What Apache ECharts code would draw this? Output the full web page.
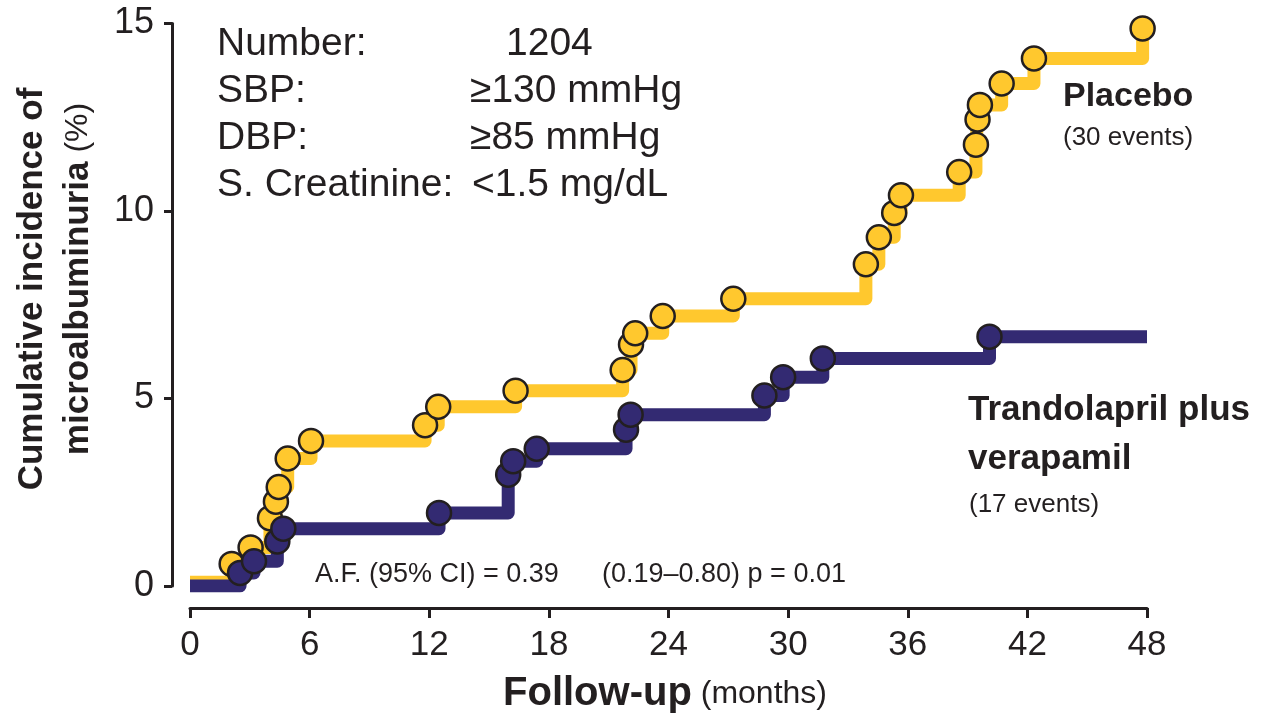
<!DOCTYPE html>
<html>
<head>
<meta charset="utf-8">
<script src="https://cdn.jsdelivr.net/npm/echarts@6/dist/echarts.min.js"></script>
<style>
  html, body { margin: 0; padding: 0; background: #fff; }
  #chart { width: 1270px; height: 714px; }
</style>
</head>
<body>
<div id="chart"></div>
<script>
// event times (months) and cumulative incidence (%)
var placeboTimes = [2.09, 3.04, 4.01, 4.31, 4.45, 4.90, 6.07, 11.79, 12.45, 16.33, 21.70, 22.12, 22.33, 23.71, 27.25,
                    33.90, 34.55, 35.32, 35.66, 38.58, 39.42, 39.50, 39.62, 40.71, 42.33, 47.78];
var placeboPct   = [0.59, 1.03, 1.81, 2.25, 2.64, 3.40, 3.87, 4.29, 4.78, 5.21, 5.76, 6.44, 6.74, 7.20, 7.66,
                    8.58, 9.30, 9.95, 10.42, 11.04, 11.77, 12.44, 12.83, 13.40, 14.07, 14.87];
var placeboStart = 0.1;

var tvTimes = [2.51, 3.21, 4.38, 4.68, 12.49, 15.96, 16.21, 17.39, 21.87, 22.10, 28.81, 29.75, 31.74, 40.10];
var tvPct   = [0.35, 0.66, 1.19, 1.53, 1.95, 2.97, 3.33, 3.66, 4.17, 4.57, 5.08, 5.57, 6.07, 6.65];
var tvStart = 0;

var followEnd = 48;
var xTicks = [0, 48, 6];   // min, max, interval
var yTicks = [0, 15, 5];

var yellow = '#FFC82E';
var navy = '#332A72';
var ink = '#231F20';
var font = '"Liberation Sans", Arial, Helvetica, sans-serif';

function stepData(start, times, pct) {
    var d = [[0, start]];
    for (var i = 0; i < times.length; i++) d.push([times[i], pct[i]]);
    d.push([followEnd, pct[pct.length - 1]]);
    return d;
}
function dots(times, pct) {
    return times.map(function (t, i) { return [t, pct[i]]; });
}

var myChart = echarts.init(document.getElementById('chart'));

var lineStyleBase = { width: 13, cap: 'butt', join: 'round' };

var option = {
    backgroundColor: '#ffffff',
    animation: false,
    grid: { left: 190, right: 123, top: 23.5, bottom: 128 },
    xAxis: {
        type: 'value', min: xTicks[0], max: xTicks[1], interval: xTicks[2],
        offset: 22,
        axisLine: { onZero: false, lineStyle: { color: ink, width: 3 } },
        axisTick: { length: 10, lineStyle: { color: ink, width: 3 } },
        axisLabel: { color: ink, fontSize: 35, fontFamily: font, margin: 20 },
        splitLine: { show: false }
    },
    yAxis: {
        type: 'value', min: yTicks[0], max: yTicks[1], interval: yTicks[2],
        offset: 18,
        axisLine: { show: true, onZero: false, lineStyle: { color: ink, width: 3 } },
        axisTick: { show: true, length: 8, lineStyle: { color: ink, width: 3 } },
        axisLabel: { color: ink, fontSize: 36, fontFamily: font, margin: 18 },
        splitLine: { show: false }
    },
    series: [
        {
            type: 'line', step: 'end', showSymbol: false, silent: true, z: 2,
            data: stepData(placeboStart, placeboTimes, placeboPct),
            lineStyle: Object.assign({ color: yellow }, lineStyleBase)
        },
        {
            type: 'scatter', symbolSize: 24, z: 3,
            data: dots(placeboTimes, placeboPct),
            itemStyle: { color: yellow, borderColor: ink, borderWidth: 2.5, opacity: 1 }
        },
        {
            type: 'line', step: 'end', showSymbol: false, silent: true, z: 4,
            data: stepData(tvStart, tvTimes, tvPct),
            lineStyle: Object.assign({ color: navy }, lineStyleBase)
        },
        {
            type: 'scatter', symbolSize: 24, z: 5,
            data: dots(tvTimes, tvPct),
            itemStyle: { color: navy, borderColor: ink, borderWidth: 2.5, opacity: 1 }
        }
    ],
    graphic: [
        // criteria box
        { type: 'text', left: 217, top: 25, style: { text: 'Number:', font: '39px ' + font, fill: ink } },
        { type: 'text', left: 506, top: 25, style: { text: '1204', font: '39px ' + font, fill: ink } },
        { type: 'text', left: 217, top: 72, style: { text: 'SBP:', font: '39px ' + font, fill: ink } },
        { type: 'text', left: 470, top: 72, style: { text: '≥130 mmHg', font: '39px ' + font, fill: ink } },
        { type: 'text', left: 217, top: 119, style: { text: 'DBP:', font: '39px ' + font, fill: ink } },
        { type: 'text', left: 470, top: 119, style: { text: '≥85 mmHg', font: '39px ' + font, fill: ink } },
        { type: 'text', left: 217, top: 166, style: { text: 'S. Creatinine:', font: '39px ' + font, fill: ink } },
        { type: 'text', left: 472, top: 166, style: { text: '<1.5 mg/dL', font: '39px ' + font, fill: ink } },
        // series labels
        { type: 'text', left: 1063, top: 80, style: { text: 'Placebo', font: 'bold 34px ' + font, fill: ink } },
        { type: 'text', left: 1063, top: 125, style: { text: '(30 events)', font: '26px ' + font, fill: ink } },
        { type: 'text', left: 968, top: 393, style: { text: 'Trandolapril plus', font: 'bold 35px ' + font, fill: ink } },
        { type: 'text', left: 968, top: 442, style: { text: 'verapamil', font: 'bold 35px ' + font, fill: ink } },
        { type: 'text', left: 969, top: 492, style: { text: '(17 events)', font: '26px ' + font, fill: ink } },
        // statistics
        { type: 'text', left: 315, top: 561, style: { text: 'A.F. (95% CI) = 0.39', font: '27px ' + font, fill: ink } },
        { type: 'text', left: 602, top: 561, style: { text: '(0.19\u20130.80) p = 0.01', font: '27px ' + font, fill: ink } },
        // x axis name
        {
            type: 'text', x: 665, y: 694,
            style: {
                text: '{b|Follow-up}{n| (months)}', align: 'center', verticalAlign: 'middle',
                rich: {
                    b: { fontSize: 40, fontWeight: 'bold', fontFamily: font, fill: ink },
                    n: { fontSize: 32, fontFamily: font, fill: ink }
                }
            }
        },
        // y axis name
        {
            type: 'text', x: 32, y: 289, rotation: Math.PI / 2,
            style: { text: 'Cumulative incidence of', font: 'bold 35px ' + font, fill: ink, align: 'center', verticalAlign: 'middle' }
        },
        {
            type: 'text', x: 78, y: 279, rotation: Math.PI / 2,
            style: {
                text: '{b|microalbuminuria}{n| (%)}', align: 'center', verticalAlign: 'middle',
                rich: {
                    b: { fontSize: 35, fontWeight: 'bold', fontFamily: font, fill: ink },
                    n: { fontSize: 32, fontFamily: font, fill: ink }
                }
            }
        }
    ]
};

myChart.setOption(option);
</script>
</body>
</html>
